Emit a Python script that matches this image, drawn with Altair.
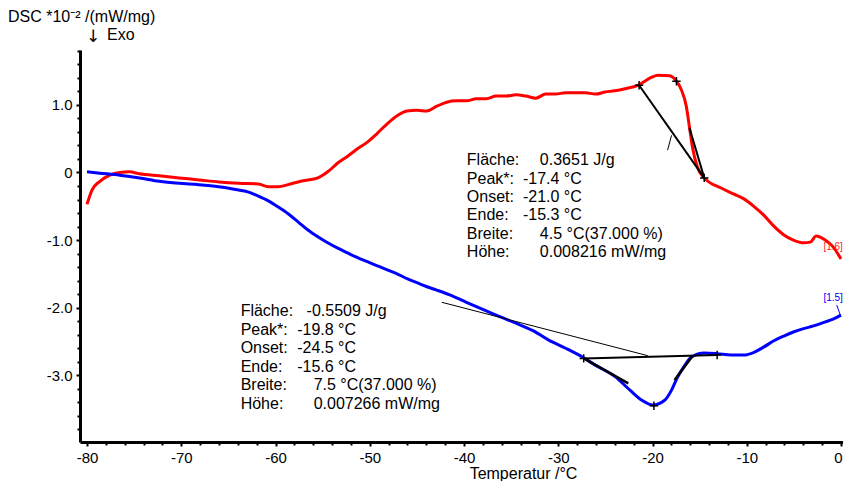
import altair as alt
import pandas as pd

# ---------------- data ----------------
red_T = [-80.0, -79.47, -78.63, -77.58, -76.53, -75.48, -74.43, -72.33, -70.22, -68.12,
         -66.02, -63.92, -61.81, -60.76, -59.71, -58.66, -57.61, -56.56, -55.51, -54.46,
         -53.40, -52.35, -51.30, -50.25, -49.20, -48.15, -47.10, -46.04, -44.99, -43.94,
         -42.89, -41.84, -40.79, -39.74, -38.69, -37.63, -36.58, -35.53, -34.48, -33.43,
         -32.38, -31.33, -30.28, -29.22, -28.17, -27.12, -26.07, -25.02, -23.97, -22.92,
         -21.55, -20.08, -19.45, -18.19, -17.46, -16.93, -16.40, -16.08, -15.77, -15.24,
         -14.51, -12.72, -11.35, -10.30, -9.25, -8.20, -7.15, -6.10, -5.05, -3.99,
         -3.26, -2.63, -1.68, -0.84, 0.0]
red_v = [-0.47, -0.26, -0.13, -0.04, 0.0, 0.01, -0.02, -0.05, -0.08, -0.11,
         -0.14, -0.16, -0.17, -0.21, -0.21, -0.18, -0.14, -0.11, -0.08, 0.01,
         0.14, 0.24, 0.35, 0.45, 0.58, 0.72, 0.84, 0.91, 0.92, 0.91,
         0.98, 1.04, 1.06, 1.06, 1.09, 1.09, 1.13, 1.13, 1.15, 1.13,
         1.10, 1.16, 1.16, 1.18, 1.18, 1.18, 1.16, 1.19, 1.21, 1.24,
         1.29, 1.41, 1.44, 1.43, 1.35, 1.22, 0.97, 0.67, 0.38, 0.08,
         -0.08, -0.23, -0.32, -0.39, -0.50, -0.63, -0.79, -0.92, -1.00, -1.04,
         -1.03, -0.94, -1.00, -1.10, -1.28]

blue_T = [-80.0, -78.63, -76.53, -74.43, -72.33, -70.22, -68.12, -66.02, -63.92, -62.86,
          -61.81, -60.76, -59.71, -58.66, -57.61, -56.56, -55.51, -54.46, -53.40, -52.35,
          -51.30, -50.25, -49.20, -48.15, -47.10, -46.04, -44.99, -43.94, -42.89, -41.52,
          -39.74, -37.95, -36.27, -34.48, -32.69, -31.01, -29.22, -27.44, -26.07, -23.97,
          -22.39, -21.13, -19.97, -18.71, -17.98, -17.35, -16.61, -15.88, -14.51, -13.14,
          -11.67, -10.30, -9.23, -8.17, -7.12, -6.07, -5.05, -3.98, -2.92, -1.89,
          -0.84, 0.0]
blue_v = [0.01, -0.01, -0.04, -0.08, -0.13, -0.16, -0.18, -0.21, -0.26, -0.29,
          -0.35, -0.42, -0.51, -0.61, -0.73, -0.85, -0.95, -1.04, -1.12, -1.19,
          -1.26, -1.32, -1.38, -1.44, -1.50, -1.57, -1.63, -1.69, -1.74, -1.81,
          -1.92, -2.03, -2.13, -2.23, -2.34, -2.48, -2.60, -2.73, -2.85, -3.02,
          -3.22, -3.37, -3.44, -3.37, -3.22, -3.03, -2.86, -2.73, -2.67, -2.68,
          -2.70, -2.70, -2.66, -2.58, -2.49, -2.42, -2.36, -2.31, -2.27, -2.22,
          -2.17, -2.11]

# evaluation construction lines (start T, start v, end T, end v, width, colour)
seg_T1 = [-21.42, -16.08, -18.40, -27.30, -42.36, -27.30, -17.66, -0.45]
seg_v1 = [1.29, 0.66, 0.33, -2.75, -1.92, -2.75, -3.07, -1.96]
seg_T2 = [-14.51, -14.51, -17.98, -13.14, -20.50, -22.57, -15.77, -0.05]
seg_v2 = [-0.08, -0.08, 0.55, -2.70, -2.71, -3.12, -2.72, -2.12]
seg_w = [2, 2, 1, 2, 1, 2.5, 2.5, 1]
seg_c = ["black", "black", "black", "black", "black", "black", "black", "#0000ff"]

# characteristic points (+ markers)
cross_T = [-21.42, -17.46, -14.51, -27.30, -19.85, -13.14]
cross_v = [1.29, 1.35, -0.08, -2.75, -3.45, -2.70]

# result boxes
ann_labels = ["Fläche:", "Peak*:", "Onset:", "Ende:", "Breite:", "Höhe:"]
red_values = ["0.3651 J/g", "-17.4 °C", "-21.0 °C", "-15.3 °C", "4.5 °C(37.000 %)", "0.008216 mW/mg"]
blue_values = ["-0.5509 J/g", "-19.8 °C", "-24.5 °C", "-15.6 °C", "7.5 °C(37.000 %)", "0.007266 mW/mg"]
red_rows_v = [0.185, -0.089, -0.362, -0.636, -0.910, -1.183]
blue_rows_v = [-2.049, -2.324, -2.599, -2.874, -3.149, -3.425]
red_label_T = -39.7
red_value_T = [-31.95, -33.75, -33.75, -33.75, -31.95, -31.95]
blue_label_T = -63.7
blue_value_T = [-56.7, -57.7, -57.7, -57.7, -55.95, -55.95]

end_labels = ["[1.6]", "[1.5]"]
end_T = [0.2, 0.2]
end_v = [-1.10, -1.86]
end_colors = ["#ff2020", "#0000ff"]

x_ticks = [-80, -70, -60, -50, -40, -30, -20, -10, 0]
x_minor = [-78, -76, -74, -72, -68, -66, -64, -62, -58, -56, -54, -52, -48, -46, -44, -42,
           -38, -36, -34, -32, -28, -26, -24, -22, -18, -16, -14, -12, -8, -6, -4, -2]
y_ticks = [-3, -2, -1, 0, 1]
y_minor = [-3.8, -3.6, -3.4, -3.2, -2.8, -2.6, -2.4, -2.2, -1.8, -1.6, -1.4, -1.2,
           -0.8, -0.6, -0.4, -0.2, 0.2, 0.4, 0.6, 0.8, 1.2, 1.4, 1.6, 1.8]

y_title = "DSC *10⁻² /(mW/mg)"
exo_arrow = "↓"
exo_text = "Exo"

# ---------------- build tables ----------------
FONT = "Liberation Sans"
lines_df = pd.concat([
    pd.DataFrame({"T": red_T, "v": red_v, "s": "red", "i": range(len(red_T))}),
    pd.DataFrame({"T": blue_T, "v": blue_v, "s": "blue", "i": range(len(blue_T))}),
])
seg_df = pd.DataFrame({"T": seg_T1, "v": seg_v1, "T2": seg_T2, "v2": seg_v2, "w": seg_w, "c": seg_c})
cross_df = pd.DataFrame({"T": cross_T, "v": cross_v})
lab_df = pd.DataFrame({
    "T": [red_label_T] * 6 + [blue_label_T] * 6,
    "v": red_rows_v + blue_rows_v,
    "t": ann_labels + ann_labels,
})
val_df = pd.DataFrame({
    "T": red_value_T + blue_value_T,
    "v": red_rows_v + blue_rows_v,
    "t": red_values + blue_values,
})
end_df = pd.DataFrame({"T": end_T, "v": end_v, "t": end_labels, "c": end_colors})

xs = alt.Scale(domain=[-80.743, 0.212], nice=False, zero=False)
ys = alt.Scale(domain=[-3.987, 1.812], nice=False, zero=False)

x_major = alt.Axis(
    values=x_ticks, orient="bottom", grid=False,
    labelExpr="datum.value < 0 ? '-' + toString(abs(datum.value)) : toString(datum.value)",
    labelFont=FONT, labelFontSize=15, labelColor="black", labelPadding=4, labelFlush=False,
    labelOffset={"condition": {"test": "datum.value == 0", "value": -3}, "value": 0},
    tickSize=4, tickWidth=2, tickColor="black", domainColor="black", domainWidth=3,
    title="Temperatur /°C", titleFont=FONT, titleFontSize=16, titleFontWeight="normal",
    titleColor="black", titleX=443, titleY=31, titleAlign="center", titleBaseline="middle",
)
y_major = alt.Axis(
    values=y_ticks, orient="left", grid=False, title=None,
    labelExpr="datum.value == 0 ? '0' : (datum.value < 0 ? '-' : '') + format(abs(datum.value), '.1f')",
    labelFont=FONT, labelFontSize=15, labelColor="black", labelPadding=4,
    tickSize=4, tickWidth=2, tickColor="black", domainColor="black", domainWidth=3,
)
x_min_axis = alt.Axis(values=x_minor, orient="bottom", grid=False, labels=False, domain=False,
                      tickSize=3, tickWidth=2, tickColor="black", title=None)
y_min_axis = alt.Axis(values=y_minor, orient="left", grid=False, labels=False, domain=False,
                      tickSize=3, tickWidth=2, tickColor="black", title=None)

lines = alt.Chart(lines_df).mark_line(strokeWidth=3, interpolate="monotone").encode(
    x=alt.X("T:Q", scale=xs, axis=x_major),
    y=alt.Y("v:Q", scale=ys, axis=y_major),
    color=alt.Color("s:N", scale=alt.Scale(domain=["red", "blue"], range=["#ff0000", "#0000ff"]), legend=None),
    order="i:Q",
)

segs = alt.Chart(seg_df).mark_rule().encode(
    x=alt.X("T:Q", scale=xs, axis=None),
    y=alt.Y("v:Q", scale=ys, axis=None),
    x2="T2:Q", y2="v2:Q",
    strokeWidth=alt.StrokeWidth("w:Q", scale=None),
    color=alt.Color("c:N", scale=None),
)

crosses = alt.Chart(cross_df).mark_point(
    shape="M-1,0L1,0M0,-1L0,1", size=70, filled=False, stroke="black", strokeWidth=1.5, opacity=1
).encode(
    x=alt.X("T:Q", scale=xs, axis=x_min_axis),
    y=alt.Y("v:Q", scale=ys, axis=y_min_axis),
)

labels = alt.Chart(lab_df).mark_text(align="left", baseline="middle", font=FONT, fontSize=16, color="black").encode(
    x=alt.X("T:Q", scale=xs, axis=None), y=alt.Y("v:Q", scale=ys, axis=None), text="t:N")
values = alt.Chart(val_df).mark_text(align="left", baseline="middle", font=FONT, fontSize=16, color="black").encode(
    x=alt.X("T:Q", scale=xs, axis=None), y=alt.Y("v:Q", scale=ys, axis=None), text="t:N")
ends = alt.Chart(end_df).mark_text(align="right", baseline="middle", font=FONT, fontSize=10).encode(
    x=alt.X("T:Q", scale=xs, axis=None), y=alt.Y("v:Q", scale=ys, axis=None), text="t:N",
    color=alt.Color("c:N", scale=None))

title_txt = alt.Chart(pd.DataFrame({"t": [y_title]})).mark_text(
    align="left", baseline="middle", font=FONT, fontSize=16, color="black"
).encode(text="t:N", x=alt.value(-72), y=alt.value(-33))
arrow_txt = alt.Chart(pd.DataFrame({"t": [exo_arrow]})).mark_text(
    align="center", baseline="middle", font="DejaVu Sans", fontSize=17, color="black"
).encode(text="t:N", x=alt.value(13), y=alt.value(-13))
exo_txt = alt.Chart(pd.DataFrame({"t": [exo_text]})).mark_text(
    align="left", baseline="middle", font=FONT, fontSize=16, color="black"
).encode(text="t:N", x=alt.value(27), y=alt.value(-15))

chart = alt.layer(
    lines, segs, crosses, labels, values, ends, title_txt, arrow_txt, exo_txt
).resolve_axis(x="independent", y="independent").properties(
    width=763, height=392,
    padding={"left": 72, "top": 42, "right": 0, "bottom": 39},
    autosize=alt.AutoSizeParams(type="none"),
    background="white",
).configure_view(stroke=None)

chart.save("out.html", embed_options={"renderer": "svg", "actions": False})
